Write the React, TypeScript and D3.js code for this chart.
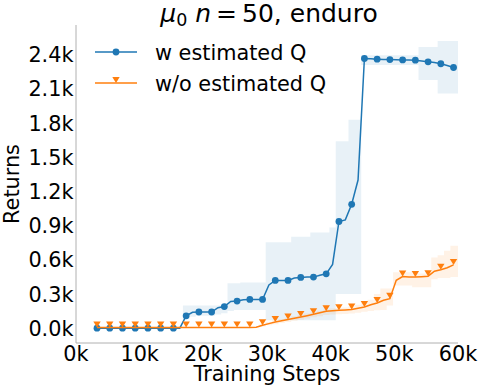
import React from "react";
import * as d3 from "d3";

// Training steps (thousands) of the plotted points; markers on every other point
const steps = [
  3.3, 4.3, 5.3, 6.3, 7.3, 8.3, 9.3, 10.3, 11.3, 12.3, 13.3, 14.3, 15.3, 16.3, 17.3, 18.3, 19.3, 20.3, 21.3,
  22.3, 23.3, 24.3, 25.3, 26.3, 27.3, 28.3, 29.3, 30.3, 31.3, 32.3, 33.3, 34.3, 35.3, 36.3, 37.3, 38.3, 39.3,
  40.3, 41.3, 42.3, 43.3, 44.3, 45.3, 46.3, 47.3, 48.3, 49.3, 50.3, 51.3, 52.3, 53.3, 54.3, 55.3, 56.3, 57.3,
  58.3, 59.3,
];

// w estimated Q
const withQ = [
  0, 0, 0, 0, 0, 0, 0, 0, 0, 0, 0, 0, 0, 0, 108, 140, 142, 142, 142, 180, 190, 235, 238, 250, 252, 252, 252,
  380, 419, 419, 419, 440, 445, 448, 448, 465, 477, 560, 936, 950, 1087, 1300, 2366, 2363, 2360, 2358, 2357,
  2355, 2354, 2352, 2351, 2345, 2337, 2330, 2320, 2305, 2287,
];
const withQLow = [
  0, 0, 0, 0, 0, 0, 0, 0, 0, 0, 0, 0, 0, 0, 80, 100, 110, 110, 110, 120, 130, 150, 160, 160, 160, 160, 160,
  70, 70, 70, 70, 70, 70, 70, 70, 70, 70, 70, 300, 300, 300, 300, 2308, 2308, 2308, 2308, 2308, 2308, 2308,
  2308, 2308, 2178, 2178, 2178, 2060, 2060, 2060,
];
const withQHigh = [
  0, 0, 0, 0, 0, 0, 0, 0, 0, 0, 0, 0, 0, 0, 200, 200, 200, 200, 200, 200, 200, 395, 395, 400, 400, 400, 400,
  753, 753, 753, 753, 802, 802, 802, 840, 840, 840, 884, 1640, 1640, 1829, 1829, 2395, 2395, 2395, 2395, 2395,
  2395, 2395, 2395, 2395, 2468, 2468, 2468, 2520, 2520, 2520,
];

// w/o estimated Q
const withoutQ = [
  5, 5, 5, 5, 5, 5, 5, 5, 5, 5, 5, 5, 5, 5, 5, 5, 5, 5, 5, 5, 5, 5, 5, 5, 5, 8, 26, 40, 55, 65, 76, 88, 99,
  110, 122, 135, 148, 152, 157, 160, 163, 175, 186, 205, 221, 245, 259, 420, 453, 450, 448, 452, 456, 500,
  512, 530, 555,
];
const withoutQLow = [
  5, 5, 5, 5, 5, 5, 5, 5, 5, 5, 5, 5, 5, 5, 5, 5, 5, 5, 5, 5, 5, 5, 5, 5, 5, 5, 15, 25, 35, 45, 55, 65, 75,
  85, 95, 105, 115, 120, 122, 125, 128, 135, 145, 150, 157, 160, 200, 375, 375, 375, 360, 360, 360, 430,
  440, 440, 450,
];
const withoutQHigh = [
  5, 5, 5, 5, 5, 5, 5, 5, 5, 5, 5, 5, 5, 5, 5, 5, 5, 5, 5, 5, 5, 5, 5, 5, 5, 10, 35, 55, 70, 80, 92, 105,
  118, 128, 140, 152, 165, 172, 180, 182, 190, 205, 225, 250, 300, 349, 349, 491, 491, 491, 480, 480, 480,
  620, 640, 680, 724,
];

const xTicks = [0, 10, 20, 30, 40, 50, 60];
const xTickLabels = ["0k", "10k", "20k", "30k", "40k", "50k", "60k"];
const yTicks = [0, 300, 600, 900, 1200, 1500, 1800, 2100, 2400];
const yTickLabels = ["0.0k", "0.3k", "0.6k", "0.9k", "1.2k", "1.5k", "1.8k", "2.1k", "2.4k"];
const seriesNames = ["w estimated Q", "w/o estimated Q"];

const BLUE = "#1f77b4";
const ORANGE = "#ff7f0e";
const FONT = "DejaVu Sans";

export default function App() {
  const W = 478;
  const H = 387;
  const left = 76;
  const right = 458;
  const top = 25;
  const bottom = 343;

  const x = d3.scaleLinear().domain([0, 60]).range([left, right]);
  const y = d3.scaleLinear().domain([-130, 2660]).range([bottom, top]);

  type P = { s: number; v: number; lo: number; hi: number };
  const mk = (v: number[], lo: number[], hi: number[]): P[] =>
    steps.map((s, i) => ({ s, v: v[i], lo: lo[i], hi: hi[i] }));
  const blue = mk(withQ, withQLow, withQHigh);
  const orange = mk(withoutQ, withoutQLow, withoutQHigh);

  const line = d3
    .line<P>()
    .x((d) => x(d.s))
    .y((d) => y(d.v));
  const area = d3
    .area<P>()
    .x((d) => x(d.s))
    .y0((d) => y(d.lo))
    .y1((d) => y(d.hi))
    .curve(d3.curveStep);
  const extend = (arr: P[]) => [...arr, { ...arr[arr.length - 1], s: x.domain()[1] }];

  const tri = (cx: number, cy: number) =>
    `M${cx - 3.7},${cy - 6}L${cx + 3.7},${cy - 6}L${cx},${cy}Z`;

  const markers = (arr: P[]) => arr.filter((_, i) => i % 2 === 0);

  return (
    <svg width={W} height={H} style={{ position: "absolute", left: 0, top: 0, background: "#fff" }} fontFamily={FONT}>
      {/* bands */}
      <path d={area(extend(blue)) || ""} fill={BLUE} fillOpacity={0.1} />
      <path d={area(extend(orange)) || ""} fill={ORANGE} fillOpacity={0.1} />

      {/* blue series */}
      <path d={line(blue) || ""} fill="none" stroke={BLUE} strokeWidth={1.5} />
      {markers(blue).map((d, i) => (
        <circle key={"b" + i} cx={x(d.s)} cy={y(d.v)} r={3.4} fill={BLUE} />
      ))}

      {/* orange series */}
      <path d={line(orange) || ""} fill="none" stroke={ORANGE} strokeWidth={1.5} />
      {markers(orange).map((d, i) => (
        <path key={"o" + i} d={tri(x(d.s), y(d.v))} fill={ORANGE} />
      ))}

      {/* spines */}
      <line x1={left} x2={left} y1={top} y2={bottom} stroke="#b0b0b0" strokeWidth={1} />
      <line x1={left} x2={right} y1={bottom} y2={bottom} stroke="#b0b0b0" strokeWidth={1} />

      {/* ticks */}
      {xTicks.map((t, i) => (
        <text key={"xt" + i} x={x(t)} y={361} textAnchor="middle" fontSize={20.8} fill="#000">
          {xTickLabels[i]}
        </text>
      ))}
      {yTicks.map((t, i) => (
        <text key={"yt" + i} x={73.5} y={y(t) + 7.6} textAnchor="end" fontSize={20.8} fill="#000">
          {yTickLabels[i]}
        </text>
      ))}

      {/* axis labels */}
      <text x={(left + right) / 2} y={381} textAnchor="middle" fontSize={20.8} fill="#000">
        Training Steps
      </text>
      <text
        transform={`translate(18.5,${(top + bottom) / 2}) rotate(-90)`}
        textAnchor="middle"
        fontSize={20.8}
        fill="#000"
      >
        Returns
      </text>

      {/* title */}
      <text x={269} y={22} textAnchor="middle" fontSize={25} fill="#000">
        <tspan fontStyle="italic">μ</tspan>
        <tspan fontSize={17.5} dy={4}>0</tspan>
        <tspan dy={-4}>{"\u00A0"}</tspan>
        <tspan fontStyle="italic">n</tspan>
        <tspan>{"\u2009=\u200950, enduro"}</tspan>
      </text>

      {/* legend */}
      <line x1={95} x2={137} y1={52} y2={52} stroke={BLUE} strokeWidth={1.5} />
      <circle cx={116} cy={52} r={3.4} fill={BLUE} />
      <text x={155} y={59.5} fontSize={20.8} fill="#000">
        {seriesNames[0]}
      </text>
      <line x1={95} x2={137} y1={83} y2={83} stroke={ORANGE} strokeWidth={1.5} />
      <path d={tri(116, 83)} fill={ORANGE} />
      <text x={155} y={90.5} fontSize={20.8} fill="#000">
        {seriesNames[1]}
      </text>
    </svg>
  );
}
